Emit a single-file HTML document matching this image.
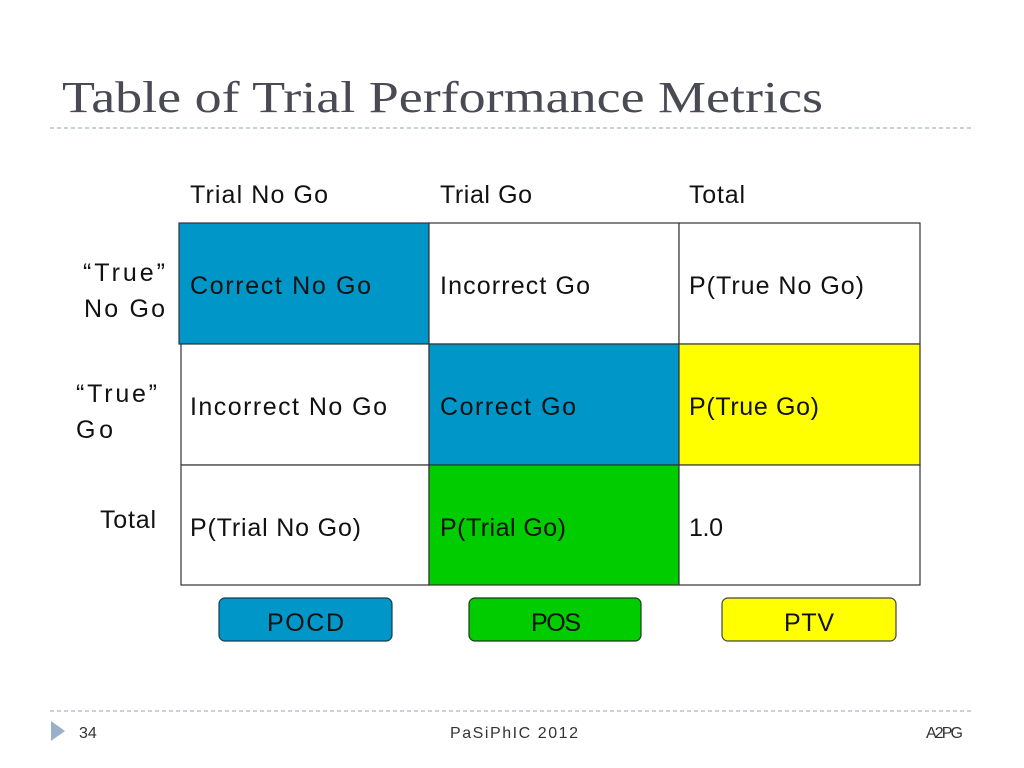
<!DOCTYPE html>
<html><head><meta charset="utf-8"><style>
html,body{margin:0;padding:0;background:#fff;}
svg{display:block;font-family:"Liberation Sans",sans-serif;}
</style></head><body>
<svg width="1024" height="768" viewBox="0 0 1024 768" xmlns="http://www.w3.org/2000/svg">
<rect width="1024" height="768" fill="#fff"/>
<text x="62" y="112" font-family="Liberation Serif, serif" font-size="44" fill="#4a4a55" textLength="761" lengthAdjust="spacingAndGlyphs">Table of Trial Performance Metrics</text>
<line x1="50" y1="128" x2="972" y2="128" stroke="#a9b8c8" stroke-width="1.2" stroke-dasharray="4,3"/>

<g stroke="#333" stroke-width="1.2">
<rect x="179" y="223" width="250" height="121" fill="#0096c8"/>
<rect x="429" y="223" width="250" height="121" fill="#fff"/>
<rect x="679" y="223" width="241" height="121" fill="#fff"/>
<rect x="181" y="344" width="248" height="121" fill="#fff"/>
<rect x="429" y="344" width="250" height="121" fill="#0096c8"/>
<rect x="679" y="344" width="241" height="121" fill="#ffff00"/>
<rect x="181" y="465" width="248" height="120" fill="#fff"/>
<rect x="429" y="465" width="250" height="120" fill="#00cc00"/>
<rect x="679" y="465" width="241" height="120" fill="#fff"/>
</g>

<g font-size="25" fill="#111">
<text x="190" y="203" textLength="138">Trial No Go</text>
<text x="440" y="203" textLength="92">Trial Go</text>
<text x="689" y="203" textLength="56">Total</text>

<text x="83" y="281" textLength="82">“True”</text>
<text x="84" y="317" textLength="81">No Go</text>
<text x="76" y="402" textLength="81">“True”</text>
<text x="76" y="438" textLength="37">Go</text>
<text x="100" y="528" textLength="56">Total</text>

<text x="190" y="294" textLength="181">Correct No Go</text>
<text x="440" y="294" textLength="150">Incorrect Go</text>
<text x="689" y="294" textLength="175">P(True No Go)</text>
<text x="190" y="415" textLength="197">Incorrect No Go</text>
<text x="440" y="415" textLength="136">Correct Go</text>
<text x="689" y="415" textLength="130">P(True Go)</text>
<text x="190" y="536" textLength="171">P(Trial No Go)</text>
<text x="440" y="536" textLength="126">P(Trial Go)</text>
<text x="689" y="536" textLength="34">1.0</text>
</g>

<g>
<rect x="219" y="598" width="173" height="43" rx="6" fill="#0096c8" stroke="#1b3a4f" stroke-width="1.2"/>
<text x="267" y="631" font-size="25" fill="#111" textLength="77">POCD</text>
</g>
<g>
<rect x="469" y="598" width="172" height="43" rx="6" fill="#00cc00" stroke="#1b3a1b" stroke-width="1.2"/>
<text x="531" y="631" font-size="25" fill="#111" textLength="50">POS</text>
</g>
<g>
<rect x="722" y="598" width="174" height="43" rx="6" fill="#ffff00" stroke="#444" stroke-width="1.2"/>
<text x="784" y="631" font-size="25" fill="#111" textLength="50">PTV</text>
</g>

<line x1="50" y1="711" x2="972" y2="711" stroke="#a9b8c8" stroke-width="1.2" stroke-dasharray="4,3"/>
<polygon points="51,721 51,741 65,731" fill="#9ab0c8"/>
<text x="79" y="738" font-size="16" fill="#333">34</text>
<text x="450" y="738" font-size="16" fill="#333" textLength="128">PaSiPhIC 2012</text>
<text x="926" y="738" font-size="16" fill="#333" textLength="37">A2PG</text>
</svg>
</body></html>
